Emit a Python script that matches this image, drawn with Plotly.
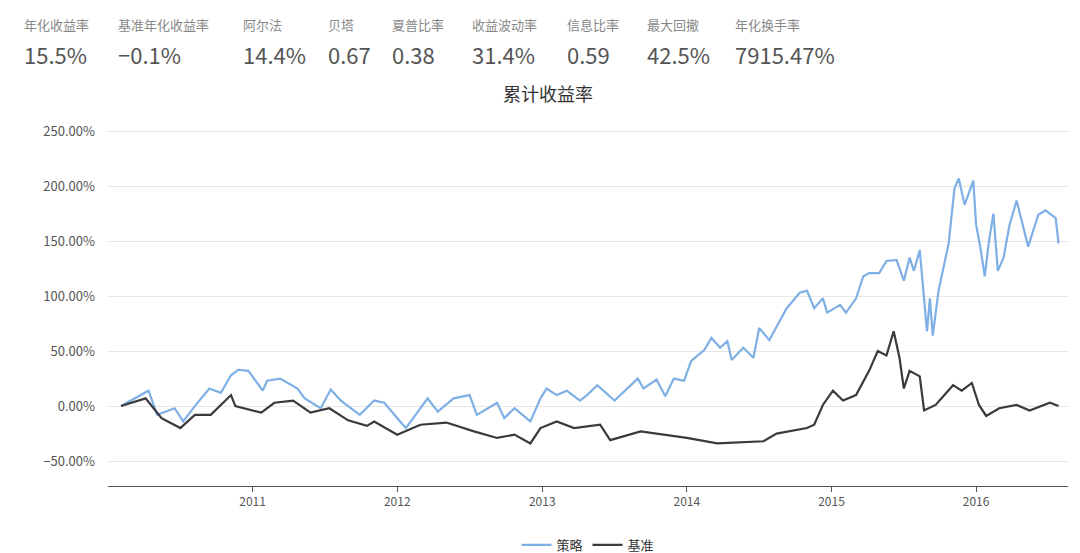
import plotly.graph_objects as go
import pandas as pd

strat_t = [2010.09,2010.28,2010.34,2010.46,2010.52,2010.6,2010.70,2010.78,2010.85,2010.90,2010.97,2011.07,2011.10,2011.19,2011.31,2011.36,2011.47,2011.54,2011.61,2011.74,2011.84,2011.91,2012.02,2012.06,2012.21,2012.28,2012.39,2012.50,2012.55,2012.69,2012.74,2012.81,2012.92,2012.99,2013.03,2013.10,2013.17,2013.26,2013.31,2013.38,2013.50,2013.66,2013.70,2013.79,2013.85,2013.91,2013.98,2014.03,2014.12,2014.17,2014.23,2014.28,2014.31,2014.39,2014.46,2014.50,2014.57,2014.64,2014.69,2014.78,2014.83,2014.88,2014.94,2014.97,2015.06,2015.10,2015.17,2015.22,2015.26,2015.33,2015.38,2015.45,2015.50,2015.54,2015.57,2015.61,2015.66,2015.68,2015.70,2015.74,2015.79,2015.81,2015.85,2015.88,2015.92,2015.98,2016.00,2016.03,2016.06,2016.09,2016.12,2016.15,2016.19,2016.23,2016.28,2016.31,2016.36,2016.43,2016.48,2016.55,2016.57]
strat_v = [0,14,-8,-2,-14,0,16,12,28,33,32,14,23,25,16,7,-2,15,5,-8,5,3,-14,-20,7,-5,7,10,-8,3,-11,-2,-14,7,16,10,14,5,10,19,5,25,16,24,9,25,23,41,51,62,53,59,42,53,44,71,60,77,89,103,105,89,98,85,92,85,98,118,121,121,132,133,114,135,123,142,68,98,64,105,137,148,198,207,183,205,165,144,118,151,175,123,135,164,187,171,145,174,178,171,148]
bench_t = [2010.09,2010.26,2010.37,2010.50,2010.60,2010.71,2010.85,2010.88,2011.06,2011.15,2011.28,2011.40,2011.53,2011.66,2011.79,2011.84,2012.00,2012.16,2012.34,2012.53,2012.69,2012.81,2012.92,2012.99,2013.10,2013.22,2013.40,2013.47,2013.68,2013.84,2014.00,2014.21,2014.53,2014.62,2014.83,2014.88,2014.94,2015.01,2015.08,2015.17,2015.26,2015.32,2015.38,2015.43,2015.47,2015.50,2015.54,2015.61,2015.64,2015.72,2015.84,2015.90,2015.97,2016.02,2016.07,2016.16,2016.28,2016.37,2016.51,2016.57]
bench_v = [0,7,-11,-20,-8,-8,10,0,-6,3,5,-6,-2,-13,-18,-14,-26,-17,-15,-23,-29,-26,-34,-20,-14,-20,-17,-31,-23,-26,-29,-34,-32,-25,-20,-17,1,14,5,10,32,50,46,68,44,16,32,27,-4,1,19,14,21,1,-9,-2,1,-4,3,0]

year_ticks = ["2011", "2012", "2013", "2014", "2015", "2016"]

stat_labels = ["年化收益率","基准年化收益率","阿尔法","贝塔","夏普比率","收益波动率","信息比率","最大回撤","年化换手率"]
stat_values = ["15.5%","−0.1%","14.4%","0.67","0.38","31.4%","0.59","42.5%","7915.47%"]
stat_px = [14,108,233,318,382,462,557,637,725]

def to_dates(ts):
    out = []
    for t in ts:
        y = int(t)
        start = pd.Timestamp(year=y, month=1, day=1)
        out.append(start + pd.Timedelta(days=(t - y) * 365.25))
    return out

fig = go.Figure()
fig.add_trace(go.Scatter(x=to_dates(strat_t), y=[v/100 for v in strat_v], name="策略",
                         mode="lines", line=dict(color="#7eb0e6", width=2.2)))
fig.add_trace(go.Scatter(x=to_dates(bench_t), y=[v/100 for v in bench_v], name="基准",
                         mode="lines", line=dict(color="#3a3a3c", width=2.2)))

W, H = 1080, 553
L, R, T, B = 100, 20, 110, 75
for px, lab, val in zip(stat_px, stat_labels, stat_values):
    xp = (px - L) / (W - L - R)
    fig.add_annotation(x=xp, y=(H - B - 17) / (H - T - B), xref="paper", yref="paper", text=lab,
                       showarrow=False, xanchor="left", yanchor="middle",
                       font=dict(size=13, color="#888888"))
    fig.add_annotation(x=xp, y=(H - B - 46) / (H - T - B), xref="paper", yref="paper", text=val,
                       showarrow=False, xanchor="left", yanchor="middle",
                       font=dict(size=22, color="#555555"))

fig.update_layout(
    width=W, height=H, margin=dict(l=L, r=R, t=T, b=B, autoexpand=False),
    paper_bgcolor="white", plot_bgcolor="white",
    font=dict(family="Noto Sans CJK SC, sans-serif", color="#555555"),
    title=dict(text="累计收益率", x=0.5, xanchor="center", y=1 - 87 / H, yanchor="middle",
               font=dict(size=18, color="#333333")),
    showlegend=True,
    legend=dict(orientation="h", x=0.5, xanchor="center", y=-0.16, yanchor="middle",
                font=dict(size=13, color="#333333")),
    xaxis=dict(range=[pd.Timestamp("2010-01-01"), pd.Timestamp("2016-08-20")],
               showgrid=False, showline=True, linecolor="#555555", linewidth=1,
               ticks="outside", ticklen=5, tickcolor="#555555",
               tickvals=[pd.Timestamp(y + "-01-01") for y in year_ticks], ticktext=year_ticks,
               tickfont=dict(size=12, color="#555555")),
    yaxis=dict(range=[-0.727, 2.62], tickvals=[-0.5, 0, 0.5, 1, 1.5, 2, 2.5],
               tickformat=".2%", showgrid=True, gridcolor="#e6e6e6", zeroline=False,
               showline=False, tickfont=dict(size=13, color="#555555"), ticklabelstandoff=12),
)
fig.write_html("out.html")
